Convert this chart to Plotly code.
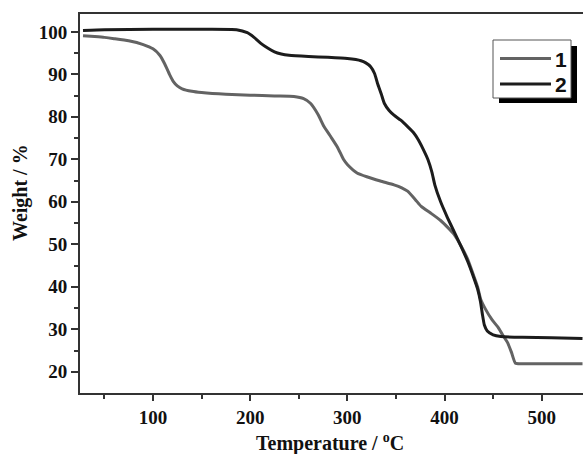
import plotly.graph_objects as go

# Sample 1
t1 = [28, 40, 50, 60, 75, 90, 100, 107, 112, 117, 121, 125, 130, 140, 150, 175, 200, 225, 245,
      255, 262, 270, 276, 283, 290, 296, 300, 310, 320, 334, 348, 356, 362, 370, 376, 386, 396,
      404, 410, 417, 424, 430, 434, 437, 442, 449, 455, 460, 465, 469, 473, 480, 500, 542]
w1 = [99.1, 98.9, 98.7, 98.4, 97.9, 97.0, 96.0, 94.5, 92.5, 90.0, 88.3, 87.3, 86.6, 86.0, 85.7,
      85.3, 85.1, 84.9, 84.8, 84.3, 83.2, 80.5, 77.7, 75.3, 72.8, 70.0, 68.8, 66.8, 65.9, 64.9,
      64.0, 63.3, 62.5, 60.5, 58.9, 57.3, 55.6, 53.8, 52.3, 49.6, 46.4, 42.6, 40.0, 37.2, 34.8,
      32.2, 30.5, 28.6, 26.8, 24.5, 22.0, 21.9, 21.9, 21.9]

# Sample 2
t2 = [28, 50, 100, 150, 186, 197, 204, 211, 218, 225, 232, 240, 260, 280, 300, 314, 319, 324,
      328, 331, 335, 338, 343, 348, 355, 362, 368, 373, 378, 383, 387, 390, 396, 403, 410, 417,
      424, 430, 434, 437, 439, 441, 444, 450, 458, 480, 510, 542]
w2 = [100.3, 100.5, 100.6, 100.6, 100.5, 99.8, 98.7, 97.3, 96.2, 95.3, 94.8, 94.5, 94.2, 94.0,
      93.7, 93.2, 92.7, 91.8, 90.2, 87.9, 85.3, 83.2, 81.5, 80.4, 79.2, 77.7, 76.3, 74.6, 72.4,
      69.9, 67.0, 64.0, 60.0, 56.3, 52.9, 49.5, 45.9, 42.2, 39.5, 36.5, 33.5, 31.0, 29.6, 28.7,
      28.3, 28.1, 28.0, 27.8]

series_names = ["1", "2"]
series_colors = ["#636363", "#1c1c1c"]
x_ticks = [100, 200, 300, 400, 500]
y_ticks = [20, 30, 40, 50, 60, 70, 80, 90, 100]

W, H = 583, 454
L, R, T, B = 80, 0, 14, 61
pw, ph = W - L - R, H - T - B

def px(x):
    return (x - L) / pw

def py(y):
    return (H - B - y) / ph

fig = go.Figure()
for t, w, c, n in [(t1, w1, series_colors[0], series_names[0]), (t2, w2, series_colors[1], series_names[1])]:
    fig.add_trace(go.Scatter(x=t, y=w, mode="lines", name=n,
                             line=dict(color=c, width=3, shape="spline", smoothing=0.5),
                             showlegend=False))

tickfont = dict(family="Liberation Serif", size=19, color="#111111", weight="bold")
fig.update_xaxes(range=[24.9, 542.5], tickvals=x_ticks, ticks="outside", ticklen=6, tickwidth=1.5,
                 tickcolor="#333", showline=True, linecolor="#333", linewidth=2, mirror=True,
                 showgrid=False, zeroline=False, tickfont=tickfont,
                 minor=dict(tickvals=[50, 150, 250, 350, 450], ticks="outside", ticklen=4,
                            tickwidth=1.5, tickcolor="#333"))
fig.update_yaxes(range=[15, 104.2], tickvals=y_ticks, ticks="outside", ticklen=7, tickwidth=1.5,
                 tickcolor="#333", showline=True, linecolor="#333", linewidth=2, mirror=False,
                 showgrid=False, zeroline=False, tickfont=tickfont,
                 minor=dict(tickvals=[25, 35, 45, 55, 65, 75, 85, 95], ticks="outside", ticklen=4,
                            tickwidth=1.5, tickcolor="#333"))

titlefont = dict(family="Liberation Serif", size=20, color="#111111", weight="bold")
fig.add_annotation(xref="paper", yref="paper", x=px(330), y=py(442), text="Temperature / <sup>o</sup>C",
                   showarrow=False, font=titlefont, xanchor="center", yanchor="middle")
fig.add_annotation(xref="paper", yref="paper", x=px(20), y=py(193), text="Weight / %",
                   showarrow=False, font=titlefont, textangle=-90, xanchor="center", yanchor="middle")

# legend box with shadow
fig.add_shape(type="rect", xref="paper", yref="paper", x0=px(499), x1=px(577), y0=py(46), y1=py(103),
              fillcolor="#000000", line=dict(width=0))
fig.add_shape(type="rect", xref="paper", yref="paper", x0=px(493), x1=px(571), y0=py(40), y1=py(98),
              fillcolor="#ffffff", line=dict(color="#555555", width=1))
legfont = dict(family="Liberation Sans", size=21, color="#111111", weight="bold")
for yy, c, n in [(58.5, series_colors[0], series_names[0]), (84, series_colors[1], series_names[1])]:
    fig.add_shape(type="line", xref="paper", yref="paper", x0=px(500), x1=px(551), y0=py(yy), y1=py(yy),
                  line=dict(color=c, width=3))
    fig.add_annotation(xref="paper", yref="paper", x=px(561), y=py(yy + 0.5), text=n, showarrow=False,
                       font=legfont, xanchor="center", yanchor="middle")

fig.update_layout(width=W, height=H, margin=dict(l=L, r=R, t=T, b=B),
                  plot_bgcolor="#ffffff", paper_bgcolor="#ffffff")

fig.write_html("out.html", config={"displayModeBar": False},
               post_script="document.body.style.margin='0';document.body.style.padding='0';document.body.style.overflow='hidden';")
